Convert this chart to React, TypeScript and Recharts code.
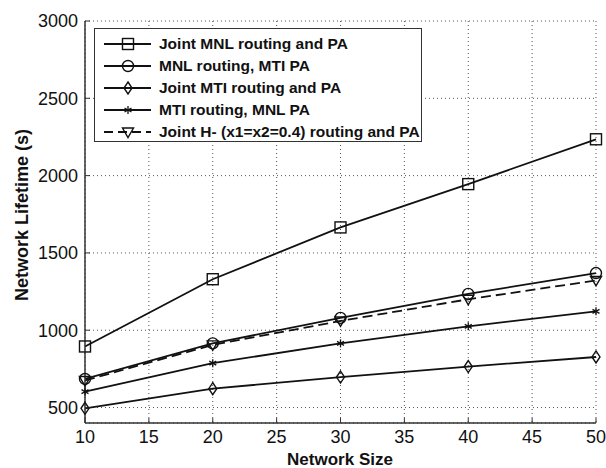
import { LineChart, Line, XAxis, YAxis, CartesianGrid } from "recharts";

const networkSize = [10, 20, 30, 40, 50];
const jointMnl = [895, 1330, 1665, 1945, 2235];
const mnlMti = [685, 915, 1080, 1235, 1370];
const jointMti = [495, 622, 697, 765, 827];
const mtiMnl = [603, 787, 915, 1025, 1122];
const jointH = [675, 905, 1060, 1200, 1322];

const xTicks = [10, 15, 20, 25, 30, 35, 40, 45, 50];
const yTicks = [500, 1000, 1500, 2000, 2500, 3000];

const seriesNames = [
  "Joint MNL routing and PA",
  "MNL routing, MTI PA",
  "Joint MTI routing and PA",
  "MTI routing, MNL PA",
  "Joint H- (x1=x2=0.4) routing and PA",
];

const data = networkSize.map((s, i) => ({
  size: s,
  jointMnl: jointMnl[i],
  mnlMti: mnlMti[i],
  jointMti: jointMti[i],
  mtiMnl: mtiMnl[i],
  jointH: jointH[i],
}));

const INK = "#111";
const FONT = "'Liberation Sans', Arial, sans-serif";

function marker(kind: string, cx: number, cy: number, key?: any) {
  const common = { fill: "none", stroke: INK, strokeWidth: 1.4 };
  if (kind === "square") return <rect key={key} x={cx - 5.5} y={cy - 5.5} width={11} height={11} {...common} />;
  if (kind === "circle") return <circle key={key} cx={cx} cy={cy} r={5.5} {...common} />;
  if (kind === "diamond")
    return <polygon key={key} points={`${cx},${cy - 6} ${cx + 4},${cy} ${cx},${cy + 6} ${cx - 4},${cy}`} {...common} />;
  if (kind === "triangle")
    return <polygon key={key} points={`${cx - 5.5},${cy - 4} ${cx + 5.5},${cy - 4} ${cx},${cy + 5.5}`} {...common} />;
  // star
  return (
    <g key={key} stroke={INK} strokeWidth={1.3}>
      <line x1={cx} y1={cy - 4} x2={cx} y2={cy + 4} />
      <line x1={cx - 3.5} y1={cy - 2} x2={cx + 3.5} y2={cy + 2} />
      <line x1={cx - 3.5} y1={cy + 2} x2={cx + 3.5} y2={cy - 2} />
    </g>
  );
}

const dot = (kind: string) => (p: any) => marker(kind, p.cx, p.cy, `${kind}-${p.index}`);

const legendRows = [
  { name: seriesNames[0], kind: "square", dash: undefined },
  { name: seriesNames[1], kind: "circle", dash: undefined },
  { name: seriesNames[2], kind: "diamond", dash: undefined },
  { name: seriesNames[3], kind: "star", dash: undefined },
  { name: seriesNames[4], kind: "triangle", dash: "9 5" },
];

const LW = 1.8;

export default function App() {
  return (
    <div style={{ position: "absolute", left: 0, top: 0, width: 606, height: 468, background: "#fff" }}>
      <LineChart width={606} height={468} data={data} margin={{ top: 21, right: 10, bottom: 0, left: 0 }}>
        <CartesianGrid strokeDasharray="1 3" stroke="#555" />
        <XAxis
          dataKey="size"
          type="number"
          domain={[10, 50]}
          ticks={xTicks}
          height={45}
          tickSize={-5}
          tickMargin={12}
          axisLine={{ stroke: "#333", strokeWidth: 1.5 }}
          tickLine={{ stroke: "#333" }}
          tick={{ fontSize: 18, fill: INK, fontFamily: FONT }}
        />
        <XAxis
          xAxisId="top"
          orientation="top"
          type="number"
          domain={[10, 50]}
          ticks={xTicks}
          height={0}
          tickSize={-5}
          tick={false}
          axisLine={{ stroke: "#333", strokeWidth: 1.5 }}
          tickLine={{ stroke: "#333" }}
        />
        <YAxis
          type="number"
          domain={[400, 3000]}
          ticks={yTicks}
          width={85}
          tickSize={-5}
          tickMargin={12}
          axisLine={{ stroke: "#333", strokeWidth: 1.5 }}
          tickLine={{ stroke: "#333" }}
          tick={{ fontSize: 18, fill: INK, fontFamily: FONT }}
        />
        <YAxis
          yAxisId="right"
          orientation="right"
          type="number"
          domain={[400, 3000]}
          ticks={yTicks}
          width={0}
          tickSize={-5}
          tick={false}
          axisLine={{ stroke: "#333", strokeWidth: 1.5 }}
          tickLine={{ stroke: "#333" }}
        />
        <Line dataKey="jointMnl" name={seriesNames[0]} stroke={INK} strokeWidth={LW} dot={dot("square")} isAnimationActive={false} />
        <Line dataKey="mnlMti" name={seriesNames[1]} stroke={INK} strokeWidth={LW} dot={dot("circle")} isAnimationActive={false} />
        <Line dataKey="jointMti" name={seriesNames[2]} stroke={INK} strokeWidth={LW} dot={dot("diamond")} isAnimationActive={false} />
        <Line dataKey="mtiMnl" name={seriesNames[3]} stroke={INK} strokeWidth={LW} dot={dot("star")} isAnimationActive={false} />
        <Line
          dataKey="jointH"
          name={seriesNames[4]}
          stroke={INK}
          strokeWidth={LW}
          strokeDasharray="10 5"
          dot={dot("triangle")}
          isAnimationActive={false}
        />
      </LineChart>

      <svg width={606} height={468} style={{ position: "absolute", left: 0, top: 0, pointerEvents: "none" }}>
        <text
          x={22}
          y={215}
          transform="rotate(-90 22 215)"
          textAnchor="middle"
          dominantBaseline="central"
          fontSize={18}
          fontWeight="bold"
          fontFamily={FONT}
          fill={INK}
        >
          Network Lifetime (s)
        </text>
        <text x={340} y={465} textAnchor="middle" fontSize={17} fontWeight="bold" fontFamily={FONT} fill={INK}>
          Network Size
        </text>
      </svg>

      <div
        style={{
          position: "absolute",
          left: 94,
          top: 28,
          width: 328,
          height: 114,
          border: "1.5px solid #333",
          background: "#fff",
          paddingTop: 4,
          boxSizing: "border-box",
        }}
      >
        {legendRows.map((r) => (
          <div key={r.name} style={{ display: "flex", alignItems: "center", height: 22 }}>
            <svg width={56} height={22} style={{ marginLeft: 8, flexShrink: 0 }}>
              <line x1={1} y1={11} x2={48} y2={11} stroke={INK} strokeWidth={LW} strokeDasharray={r.dash} />
              {marker(r.kind, 25, 11)}
            </svg>
            <span style={{ fontFamily: FONT, fontWeight: "bold", fontSize: 15.5, color: INK, whiteSpace: "nowrap" }}>
              {r.name}
            </span>
          </div>
        ))}
      </div>
    </div>
  );
}
